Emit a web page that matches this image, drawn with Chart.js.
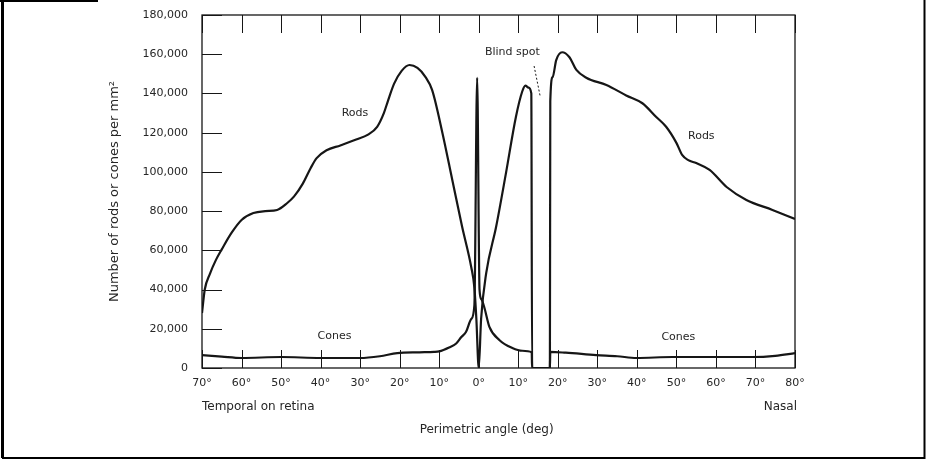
<!DOCTYPE html>
<html lang="en">
<head>
  <meta charset="UTF-8">
  <title>Rods and Cones Density</title>
  <script src="https://cdn.jsdelivr.net/npm/chart.js"></script>
  <style>
    html, body {
      margin: 0;
      padding: 0;
      background: #fff;
    }
    canvas {
      display: block;
    }
  </style>
</head>
<body>
  <canvas id="densityChart" width="926" height="460"></canvas>

<script>
  // Perimetric angle in degrees: negative = temporal side, positive = nasal side
  const rodAngles = [
    -70, -69.3, -68, -66.5, -65, -62.5, -60, -57, -54, -51, -48.5, -46.7, -44.5, -42.5, -41,
    -38.5, -35, -31, -28, -25.7, -24, -23, -21.4, -19.5, -17.5, -15.5, -13.5, -11.8, -9.2,
    -6.7, -4.2, -1.9, -1.1, -0.6, 0, 0.6, 1.9, 4.4, 6.9, 9.4, 11, 11.8, 12.6, 13.3, 13.5,
    18, 18.1, 18.7, 19.6, 21.1, 22.9, 24.7, 27.2, 32.3, 37.3, 41.4, 44.9, 47.4, 50, 51.5,
    53, 55, 58.4, 62.7, 67.7, 74.3, 80
  ];
  const rodDensity = [
    28000, 40000, 48000, 55000, 60500, 69000, 75500, 79000, 80000, 80600, 84000, 87500, 94000, 102000, 107000,
    111000, 113500, 116500, 119000, 123000, 130000, 136000, 145000, 151500, 154500, 153000, 148500, 141800, 120000,
    96000, 72000, 51500, 41000, 25000, 0, 25000, 48500, 72000, 99500, 128000, 141000, 144000, 143000, 140000, 0,
    0, 136000, 148400, 157000, 161000, 158600, 152000, 148000, 144300, 139000, 135000, 128000, 123000, 114800, 108500,
    106000, 104500, 101000, 92300, 85700, 80600, 76000
  ];

  const coneAngles = [
    -70, -65, -60, -50, -40, -30, -25, -20.6, -15, -11.3, -10, -7.5, -5.7, -4.4, -3.2, -1.9, -1.1,
    -0.4, 0.2, 0.7, 1.4, 2.7, 5.2, 8.5, 11, 13.4, 13.5, 18, 18.1, 22, 29.7, 35, 39.9, 49, 59, 69.2, 75, 80
  ];
  const coneDensity = [
    6600, 5800, 5100, 5600, 5100, 5100, 6000, 7600, 8000, 8200, 8500, 10500, 12500, 15800, 18500, 25000, 32000,
    148000, 40000, 35000, 31000, 21000, 14300, 10200, 8800, 8000, 0, 0, 8200, 7800, 6600, 6000, 5100, 5600, 5600, 5600, 6200, 7600
  ];

  const angleTicks = [-70, -60, -50, -40, -30, -20, -10, 0, 10, 20, 30, 40, 50, 60, 70, 80];
  const densityTicks = [0, 20000, 40000, 60000, 80000, 100000, 120000, 140000, 160000, 180000];

  // In-plot annotations: [text, angle, density]
  const curveLabels = [
    ['Rods', -31.3, 130000],
    ['Rods', 56.3, 118300],
    ['Cones', -36.5, 16500],
    ['Cones', 50.5, 15500],
    ['Blind spot', 8.5, 161000]
  ];
  const blindSpotLeader = [[14.0, 154000], [15.6, 138000]];

  const toPoints = (xs, ys) => xs.map((x, i) => ({ x, y: ys[i] }));

  const INK = '#161616';
  const TEXT = '#262626';
  const FONT = '"DejaVu Sans", sans-serif';

  const decorations = {
    id: 'decorations',
    afterDraw(chart) {
      const { ctx, chartArea: a, scales: { x, y } } = chart;
      ctx.save();

      // plot frame
      ctx.strokeStyle = INK;
      ctx.lineWidth = 1.3;
      ctx.strokeRect(a.left, a.top, a.right - a.left, a.bottom - a.top);

      // inward tick marks
      ctx.beginPath();
      angleTicks.forEach(v => {
        const px = Math.round(x.getPixelForValue(v)) + 0.5;
        ctx.moveTo(px, a.top); ctx.lineTo(px, a.top + 18);
        ctx.moveTo(px, a.bottom); ctx.lineTo(px, a.bottom - 18);
      });
      densityTicks.forEach(v => {
        const py = Math.round(y.getPixelForValue(v)) + 0.5;
        ctx.moveTo(a.left, py); ctx.lineTo(a.left + 20, py);
      });
      ctx.lineWidth = 1;
      ctx.stroke();

      // curve labels
      ctx.fillStyle = TEXT;
      ctx.font = '11px ' + FONT;
      ctx.textAlign = 'center';
      ctx.textBaseline = 'middle';
      curveLabels.forEach(([t, ax, dv]) => {
        ctx.fillText(t, x.getPixelForValue(ax), y.getPixelForValue(dv));
      });

      // dotted leader to the blind spot
      ctx.beginPath();
      ctx.setLineDash([2, 2]);
      ctx.moveTo(x.getPixelForValue(blindSpotLeader[0][0]), y.getPixelForValue(blindSpotLeader[0][1]));
      ctx.lineTo(x.getPixelForValue(blindSpotLeader[1][0]), y.getPixelForValue(blindSpotLeader[1][1]));
      ctx.strokeStyle = INK;
      ctx.lineWidth = 1;
      ctx.stroke();
      ctx.setLineDash([]);

      // axis captions under the ticks
      ctx.font = '12px ' + FONT;
      ctx.textAlign = 'left';
      ctx.fillText('Temporal on retina', a.left, 407);
      ctx.textAlign = 'right';
      ctx.fillText('Nasal', a.right + 2, 407);
      ctx.textAlign = 'center';
      ctx.fillText('Perimetric angle (deg)', x.getPixelForValue(2), 430);

      // outer frame
      ctx.strokeStyle = '#000';
      ctx.lineWidth = 3;
      ctx.beginPath();
      ctx.moveTo(2.5, 0); ctx.lineTo(2.5, 458);
      ctx.stroke();
      ctx.lineWidth = 2;
      ctx.beginPath();
      ctx.moveTo(2, 458); ctx.lineTo(924.5, 458); ctx.lineTo(924.5, 0);
      ctx.moveTo(0, 1); ctx.lineTo(98, 1);
      ctx.stroke();

      ctx.restore();
    }
  };

  const ctx = document.getElementById('densityChart').getContext('2d');

  new Chart(ctx, {
    type: 'line',
    data: {
      datasets: [
        {
          label: 'Rods',
          data: toPoints(rodAngles, rodDensity),
          borderColor: INK,
          borderWidth: 2.2,
          pointRadius: 0,
          cubicInterpolationMode: 'monotone'
        },
        {
          label: 'Cones',
          data: toPoints(coneAngles, coneDensity),
          borderColor: INK,
          borderWidth: 2.2,
          pointRadius: 0,
          cubicInterpolationMode: 'monotone'
        }
      ]
    },
    options: {
      responsive: false,
      devicePixelRatio: 1,
      animation: false,
      layout: { padding: { left: 0, top: 15, right: 131, bottom: 0 } },
      plugins: {
        legend: { display: false },
        tooltip: { enabled: false }
      },
      scales: {
        x: {
          type: 'linear',
          min: -70,
          max: 80,
          afterBuildTicks: s => { s.ticks = angleTicks.map(v => ({ value: v })); },
          afterFit: s => {
            s.height = 92;
            s.paddingLeft = 0;
            s.paddingRight = 0;
          },
          grid: { display: false, drawTicks: false },
          border: { display: false },
          ticks: {
            padding: 9,
            color: TEXT,
            font: { family: FONT, size: 11 },
            maxRotation: 0,
            autoSkip: false,
            callback: v => Math.abs(v) + '°'
          }
        },
        y: {
          type: 'linear',
          min: 0,
          max: 180000,
          afterBuildTicks: s => { s.ticks = densityTicks.map(v => ({ value: v })); },
          afterFit: s => {
            s.width = 202;
            s.paddingTop = 0;
            s.paddingBottom = 0;
          },
          grid: { display: false, drawTicks: false },
          border: { display: false },
          ticks: {
            padding: 14,
            color: TEXT,
            font: { family: FONT, size: 11 },
            callback: v => v.toLocaleString('en-US')
          },
          title: {
            display: true,
            text: 'Number of rods or cones per mm²',
            color: TEXT,
            font: { family: FONT, size: 13 },
            padding: { top: 107, bottom: 0 }
          }
        }
      }
    },
    plugins: [decorations]
  });
</script>

</body>
</html>
